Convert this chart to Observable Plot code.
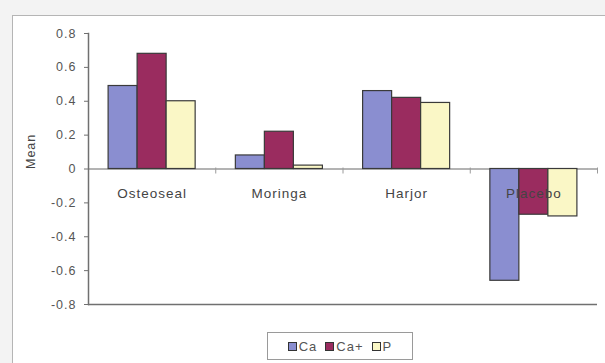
<!DOCTYPE html>
<html>
<head>
<meta charset="utf-8">
<script src="https://cdn.jsdelivr.net/npm/d3@7"></script>
<script src="https://cdn.jsdelivr.net/npm/@observablehq/plot@0.6"></script>
<style>
  html, body { margin: 0; padding: 0; background: #f3f3f3; }
  #page { position: relative; width: 605px; height: 363px; overflow: hidden; background: #f3f3f3; font-family: "Liberation Sans", Arial, sans-serif; }
  #frame { position: absolute; left: 12px; top: 15px; width: 620px; height: 400px; background: #fff; border: 1.5px solid #b5b5b5; box-sizing: border-box; }
  #chart { position: absolute; left: 0; top: 0; }
  #chart svg text { letter-spacing: 1px; }
  #legend { position: absolute; left: 267px; top: 332px; width: 146px; height: 28px; box-sizing: border-box; border: 1px solid #9a9a9a; background: #fff; display: flex; align-items: center; justify-content: center; gap: 8px; font-size: 13px; letter-spacing: 1px; color: #555; }
  #legend .item { display: flex; align-items: center; gap: 2px; }
  #legend .sw { width: 7px; height: 7px; border: 1px solid #333; display: inline-block; }
</style>
</head>
<body>
<div id="page">
  <div id="frame"></div>
  <div id="chart"></div>
  <div id="legend"></div>
</div>
<script>
const categories = ["Osteoseal", "Moringa", "Harjor", "Placebo"];
const series = ["Ca", "Ca+", "P"];
const caValues = [0.49, 0.08, 0.46, -0.66];
const caPlusValues = [0.68, 0.22, 0.42, -0.27];
const pValues = [0.40, 0.02, 0.39, -0.28];
const yTicks = [-0.8, -0.6, -0.4, -0.2, 0, 0.2, 0.4, 0.6, 0.8];
const colors = ["#8a8ed0", "#9a2c5f", "#faf7c6"];

const seriesValues = [caValues, caPlusValues, pValues];
const rows = [];
categories.forEach((cat, i) => {
  series.forEach((s, j) => {
    rows.push({cat, i, series: s, j, value: seriesValues[j][i]});
  });
});
const barW = 0.228;
const boundaries = categories.map((c, i) => i + 0.5);

const chart = Plot.plot({
  width: 605,
  height: 325,
  marginLeft: 88,
  marginRight: 8,
  marginTop: 33,
  marginBottom: 21,
  style: {fontFamily: "'Liberation Sans', Arial, sans-serif", fontSize: "12px", background: "transparent"},
  x: {type: "linear", domain: [-0.5, categories.length - 0.5], axis: null},
  y: {domain: [-0.8, 0.8], axis: null},
  color: {domain: series, range: colors},
  marks: [
    Plot.ruleY([0], {stroke: "#9a9a9a", strokeWidth: 1.5}),
    Plot.ruleX(boundaries, {y1: 0, y2: 0, insetTop: -1, insetBottom: -5, stroke: "#9a9a9a"}),
    Plot.rectY(rows, {
      x1: d => d.i + (d.j - 1.5) * barW,
      x2: d => d.i + (d.j - 0.5) * barW,
      y1: 0,
      y2: "value",
      fill: "series",
      stroke: "#3a3a3a",
      strokeWidth: 1.2
    }),
    Plot.ruleY([-0.8], {stroke: "#707070", strokeWidth: 1.5}),
    Plot.frame({anchor: "left", stroke: "#707070", strokeWidth: 1.5}),
    Plot.axisY(yTicks, {
      tickSize: 4,
      tickPadding: 8,
      stroke: "#707070",
      fill: "#555",
      fontSize: 12.5,
      tickFormat: d => d === 0 ? "0" : d.toFixed(1),
      label: null
    }),
    Plot.text(["Mean"], {frameAnchor: "left", dx: -58, rotate: -90, fill: "#444", fontSize: 12.5}),
    Plot.text(categories, {x: (d, i) => i, y: -0.147, text: d => d, fill: "#444", fontSize: 13.5})
  ]
});
document.getElementById("chart").appendChild(chart);

const legend = document.getElementById("legend");
series.forEach((s, j) => {
  const item = document.createElement("span");
  item.className = "item";
  const sw = document.createElement("span");
  sw.className = "sw";
  sw.style.background = colors[j];
  item.appendChild(sw);
  item.appendChild(document.createTextNode(s));
  legend.appendChild(item);
});
</script>
</body>
</html>
